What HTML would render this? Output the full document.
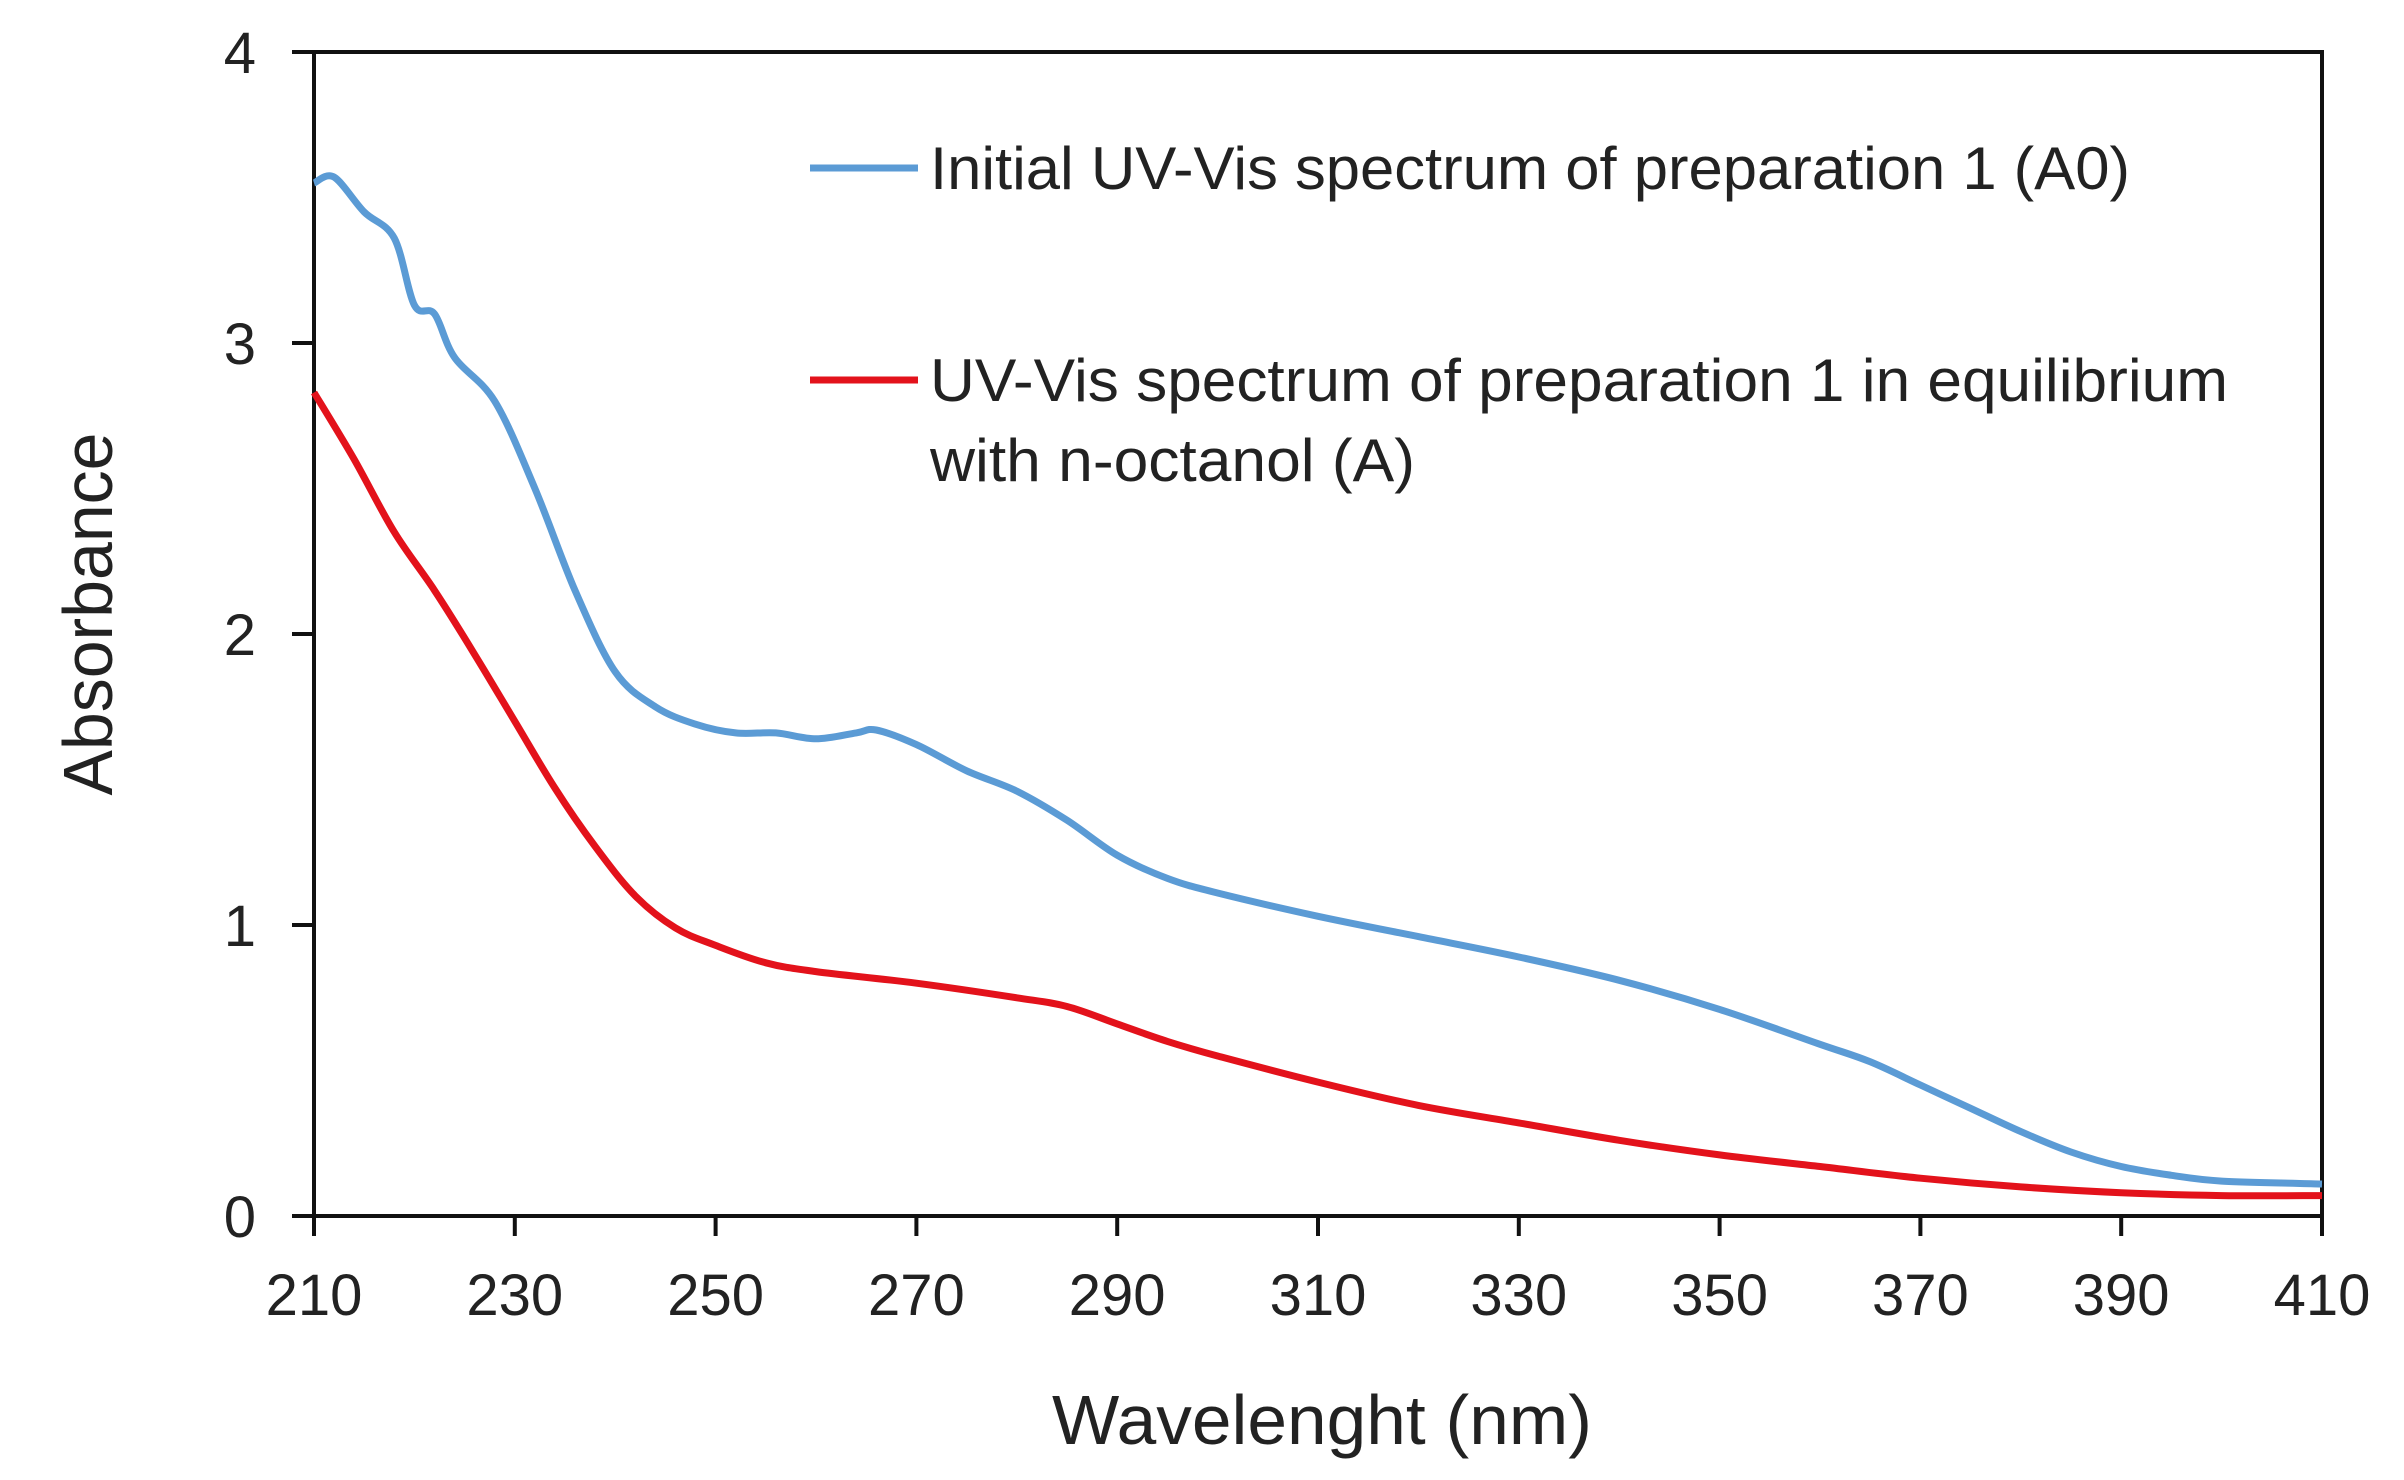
<!DOCTYPE html>
<html><head><meta charset="utf-8"><style>
html,body{margin:0;padding:0;background:#fff;}
svg{display:block;font-family:"Liberation Sans",sans-serif;}
</style></head><body>
<svg id="chart" width="2404" height="1480" viewBox="0 0 2404 1480">
<g id="axes"></g><g id="series"></g>
<g>
<line x1="810" y1="168" x2="918" y2="168" stroke="#5b9bd5" stroke-width="7"/>
<text x="930" y="189" font-size="60" fill="#222" textLength="1200" lengthAdjust="spacingAndGlyphs">Initial UV-Vis spectrum of preparation 1 (A0)</text>
<line x1="810" y1="380" x2="918" y2="380" stroke="#e3121b" stroke-width="7"/>
<text x="930" y="401" font-size="60" fill="#222" textLength="1298" lengthAdjust="spacingAndGlyphs">UV-Vis spectrum of preparation 1 in equilibrium</text>
<text x="930" y="481" font-size="60" fill="#222" textLength="485" lengthAdjust="spacingAndGlyphs">with n-octanol (A)</text>
</g>
<text x="1322" y="1444" font-size="70" text-anchor="middle" fill="#222" textLength="540" lengthAdjust="spacingAndGlyphs">Wavelenght (nm)</text>
<text transform="translate(112,614) rotate(-90)" font-size="70" text-anchor="middle" fill="#222" textLength="363" lengthAdjust="spacingAndGlyphs">Absorbance</text>
</svg>
<script>
const xTicks=[210,230,250,270,290,310,330,350,370,390,410];
const yTicks=[0,1,2,3,4];
const wlA0=[210,212,215,218,220,222,224,228,232,236,240,244,248,252,256,260,264,266,270,275,280,285,290,295,300,310,320,330,340,350,360,365,370,375,380,385,390,395,400,410];
const absA0=[3.55,3.57,3.45,3.36,3.13,3.1,2.95,2.8,2.5,2.15,1.87,1.75,1.69,1.66,1.66,1.64,1.66,1.67,1.62,1.53,1.46,1.36,1.24,1.16,1.11,1.03,0.96,0.89,0.81,0.71,0.59,0.53,0.45,0.37,0.29,0.22,0.17,0.14,0.12,0.11];
const wlA=[210,214,218,222,226,230,234,238,242,246,250,255,260,270,280,285,290,295,300,310,320,330,340,350,360,370,380,390,400,410];
const absA=[2.83,2.6,2.35,2.15,1.93,1.7,1.47,1.27,1.1,0.99,0.93,0.87,0.84,0.80,0.75,0.72,0.66,0.60,0.55,0.46,0.38,0.32,0.26,0.21,0.17,0.13,0.10,0.08,0.07,0.07];
const X0=314,X1=2322,Y0=1216,Y1=52;
const sx=v=>X0+(v-210)/(410-210)*(X1-X0);
const sy=v=>Y0-(v/4)*(Y0-Y1);
const NS="http://www.w3.org/2000/svg";
const axes=document.getElementById('axes'),ser=document.getElementById('series');
function mk(tag,attrs,parent){const e=document.createElementNS(NS,tag);for(const k in attrs)e.setAttribute(k,attrs[k]);parent.appendChild(e);return e;}
const frame=mk('rect',{x:X0,y:Y1,width:X1-X0,height:Y0-Y1,fill:'none',stroke:'#111','stroke-width':4},axes);


yTicks.forEach(t=>{
 const l=mk('line',{x1:X0-22,x2:X0,y1:sy(t),y2:sy(t),stroke:'#111','stroke-width':4},axes);
 
 
 const tx=mk('text',{x:X0-58,y:sy(t)+21,'font-size':58,'text-anchor':'end',fill:'#222'},axes);
 tx.textContent=t;
 
 
});
xTicks.forEach(t=>{
 const l=mk('line',{x1:sx(t),x2:sx(t),y1:Y0,y2:Y0+20,stroke:'#111','stroke-width':4},axes);
 
 
 const tx=mk('text',{x:sx(t),y:Y0+99,'font-size':58,'text-anchor':'middle',fill:'#222'},axes);
 tx.textContent=t;
 
 
});
function line(xs,ys,color,name){
 const P=xs.map((x,i)=>[sx(x),sy(ys[i])]);
 let d='M'+P[0][0].toFixed(1)+','+P[0][1].toFixed(1);
 for(let i=0;i<P.length-1;i++){
  const p0=P[i-1]||P[i],p1=P[i],p2=P[i+1],p3=P[i+2]||P[i+1];
  const c1=[p1[0]+(p2[0]-p0[0])/6,p1[1]+(p2[1]-p0[1])/6];
  const c2=[p2[0]-(p3[0]-p1[0])/6,p2[1]-(p3[1]-p1[1])/6];
  d+=' C'+c1[0].toFixed(1)+','+c1[1].toFixed(1)+' '+c2[0].toFixed(1)+','+c2[1].toFixed(1)+' '+p2[0].toFixed(1)+','+p2[1].toFixed(1);
 }
 const p=mk('path',{d:d,fill:'none',stroke:color,'stroke-width':7,'stroke-linejoin':'round'},ser);
 
 
}
line(wlA0,absA0,'#5b9bd5','series-a0-line');
line(wlA,absA,'#e3121b','series-a-line');
</script>
</body></html>
